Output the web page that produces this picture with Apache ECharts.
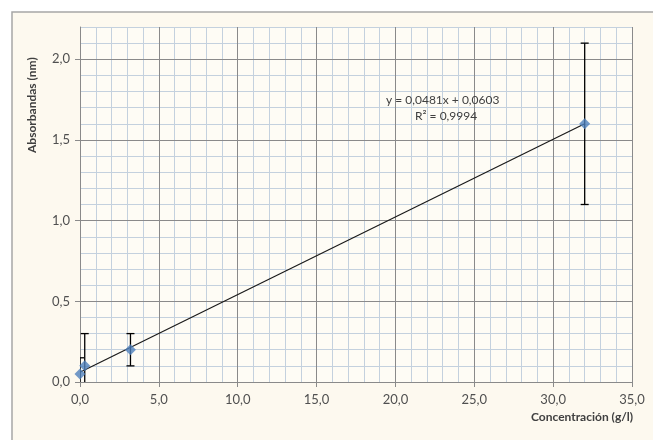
<!DOCTYPE html>
<html>
<head>
<meta charset="utf-8">
<script src="https://cdn.jsdelivr.net/npm/echarts@6/dist/echarts.min.js"></script>
<style>
    html, body { margin: 0; padding: 0; background: #ffffff; }
    #main { width: 653px; height: 440px; }
</style>
</head>
<body>
<div id="main"></div>
<script>
// puntos medidos (concentración g/l, absorbancia)
var concentraciones = [0, 0.3, 3.2, 32];
var absorbancias = [0.05, 0.1, 0.2, 1.6];
var errores = [0.1, 0.2, 0.1, 0.5];//barra de error +/-
// línea de tendencia
var tendenciaX = [0, 32];
var tendenciaY = [0.06, 1.6];
var ecuacion = "y = 0,0481x + 0,0603";
var r2 = "R² = 0,9994";

var fuente = "Lato, 'Open Sans', sans-serif";
var colorMayor = "#8a8a8a";
var colorMenor = "#c4d1de";

function coma (v, dec) {
    return v.toFixed(dec).replace(".", ",");
}

var puntos = concentraciones.map(function(x, i){ return [x, absorbancias[i]]; });
var barras = concentraciones.map(function(x, i){
    return [x, absorbancias[i] - errores[i], absorbancias[i] + errores[i]];
});
var tendencia = tendenciaX.map(function(x, i){ return [x, tendenciaY[i]]; });

function dibujarError (params, api) {
    var x = api.value(0);
    var bajo = api.coord([x, api.value(1)]);
    var alto = api.coord([x, api.value(2)]);
    var cap = 4;
    var estilo = { stroke: "#000000", lineWidth: 1.3 };
    return {
        type: "group",
        children: [
            { type: "line", shape: { x1: alto[0], y1: alto[1], x2: bajo[0], y2: bajo[1] }, style: estilo },
            { type: "line", shape: { x1: alto[0] - cap, y1: alto[1], x2: alto[0] + cap, y2: alto[1] }, style: estilo },
            { type: "line", shape: { x1: bajo[0] - cap, y1: bajo[1], x2: bajo[0] + cap, y2: bajo[1] }, style: estilo }
        ]
    };
}

var myChart = echarts.init(document.getElementById("main"));
var option = {
    backgroundColor: "#ffffff",
    animation: false,
    grid: {
        left: 80, top: 27, width: 552, height: 355,
        show: true, backgroundColor: "#fefcf5", borderWidth: 0
    },
    xAxis: [{
        type: "value", min: 0, max: 35, interval: 5, z: 1,
        axisLine: { show: true, onZero: false, lineStyle: { color: colorMayor } },
        axisTick: { show: true, length: 5, lineStyle: { color: colorMayor } },
        axisLabel: { margin: 11, color: "#505050", fontSize: 13, fontFamily: fuente,
            formatter: function(v){ return coma(v, 1); } },
        splitLine: { show: true, lineStyle: { color: colorMayor, width: 1 } }
    }, {
        type: "value", min: 0, max: 35, interval: 1, position: "bottom", z: 0,
        axisLine: { show: false }, axisTick: { show: false }, axisLabel: { show: false },
        splitLine: { show: true, lineStyle: { color: colorMenor, width: 1 } }
    }],
    yAxis: [{
        type: "value", min: 0, max: 2.2, interval: 0.5, z: 1,
        axisLine: { show: true, onZero: false, lineStyle: { color: colorMayor } },
        axisTick: { show: true, length: 5, lineStyle: { color: colorMayor } },
        axisLabel: { margin: 10, color: "#505050", fontSize: 13, fontFamily: fuente, showMaxLabel: false,
            formatter: function(v){ return coma(v, 1); } },
        // el borde superior (2,2) no es línea principal
        splitLine: { show: true, lineStyle: { color: [colorMayor, colorMayor, colorMayor, colorMayor, colorMayor, colorMenor], width: 1 } }
    }, {
        type: "value", min: 0, max: 2.2, interval: 0.1, position: "left", z: 0,
        axisLine: { show: false }, axisTick: { show: false }, axisLabel: { show: false },
        splitLine: { show: true, lineStyle: { color: colorMenor, width: 1 } }
    }],
    series: [{
        type: "line",
        data: tendencia,
        symbol: "none",
        lineStyle: { color: "#1a1a1a", width: 1.2 },
        z: 3
    }, {
        type: "custom",
        data: barras,
        renderItem: dibujarError,
        clip: true,
        z: 4
    }, {
        type: "scatter",
        data: puntos,
        symbol: "diamond",
        symbolSize: 11,
        itemStyle: { color: "#4f81bd" },
        z: 5
    }],
    graphic: [{
        type: "rect", z: -10, silent: true,
        shape: { x: 12, y: 12, width: 700, height: 500 },
        style: { fill: "#fdf9ef", stroke: "#a6a6a6", lineWidth: 1.5 }
    }, {
        type: "text", left: 386, top: 94, z: 10,
        style: { text: ecuacion, fill: "#404040", font: "12px " + fuente }
    }, {
        type: "text", left: 415, top: 110, z: 10,
        style: { text: r2, fill: "#404040", font: "12px " + fuente }
    }, {
        type: "text", left: 531, top: 411, z: 10,
        style: { text: "Concentración (g/l)", fill: "#404040", font: "bold 12px " + fuente }
    }, {
        type: "text", x: 26, y: 153, rotation: Math.PI / 2, z: 10,
        style: { text: "Absorbandas (nm)", fill: "#404040", font: "bold 12px " + fuente }
    }]
};
myChart.setOption(option);
</script>
</body>
</html>
